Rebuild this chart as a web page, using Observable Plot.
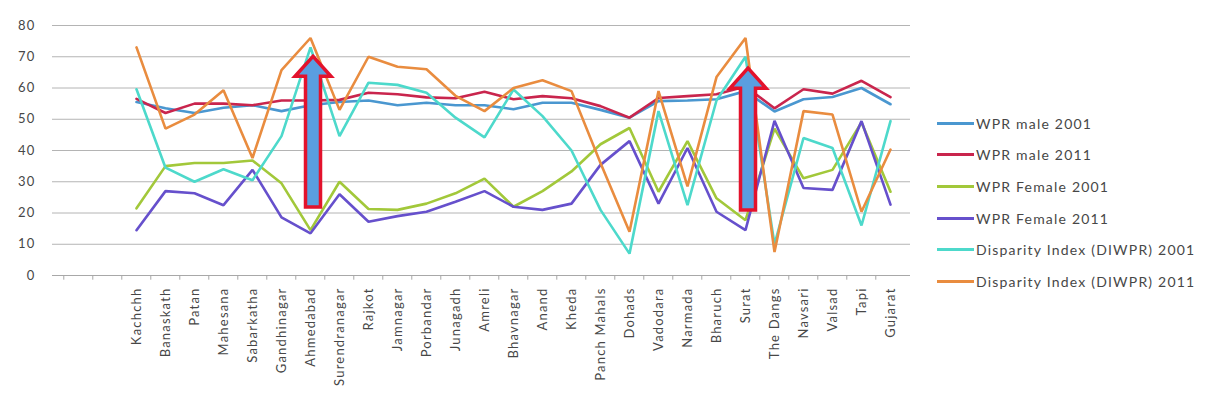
<!DOCTYPE html>
<html><head><meta charset="utf-8">
<script src="https://cdn.jsdelivr.net/npm/d3@7"></script>
<script src="https://cdn.jsdelivr.net/npm/@observablehq/plot@0.6"></script>
<style>
body{margin:0;background:#fff;font-family:Lato,"Liberation Sans",sans-serif;}
#wrap{position:relative;width:1206px;height:407px;overflow:hidden;}
#chart{position:absolute;left:0;top:0;}
#chart svg text{letter-spacing:1.2px;}
#legend{position:absolute;left:937px;top:0;}
.item{position:absolute;left:0;display:flex;align-items:center;white-space:nowrap;font-size:14px;color:#474747;height:20px;letter-spacing:1.2px;}
.sw{width:37px;height:3px;margin-right:2px;}
</style></head><body><div id="wrap"><div id="chart"></div><div id="legend"></div></div>
<script>
const blanks = ["", " "];
const districts = ["Kachchh","Banaskath","Patan","Mahesana","Sabarkatha","Gandhinagar","Ahmedabad","Surendranagar","Rajkot","Jamnagar","Porbandar","Junagadh","Amreli","Bhavnagar","Anand","Kheda","Panch Mahals","Dohads","Vadodara","Narmada","Bharuch","Surat","The Dangs","Navsari","Valsad","Tapi","Gujarat"];
const seriesNames = ["WPR  male 2001","WPR male 2011","WPR Female 2001","WPR Female 2011","Disparity Index (DIWPR) 2001","Disparity Index (DIWPR) 2011"];
const seriesColors = ["#4a97d0","#c9254d","#a2c83a","#6650cc","#4dd9cb","#e98c3f"];
const wprMale2001 = [55.5,53.5,52,53.7,54.5,52.6,54.5,55.5,56,54.5,55.3,54.5,54.5,53.2,55.3,55.3,53,50.5,55.8,56,56.4,59,52.5,56.4,57.1,60,54.8];
const wprMale2011 = [56.5,52,55,55,54.5,56,56,56.2,58.5,58,57,56.7,58.8,56.4,57.4,56.7,54.2,50.5,56.8,57.4,58,60.5,53.5,59.6,58.2,62.3,57.1];
const wprFemale2001 = [21.5,35,36,36,36.8,29.5,14.5,30,21.3,21,23,26.3,31,22,27,33.3,42,47.2,26.8,43,24.7,17.7,47,31.1,33.8,49,26.8];
const wprFemale2011 = [14.5,27,26.3,22.5,33.8,18.6,13.5,26,17.2,19,20.4,23.6,27,22,21,23,35.4,43,23,40.8,20.4,14.5,49.5,28,27.4,49.4,22.7];
const di2001 = [59.6,34.5,30,34,30.5,44.6,73,44.6,61.7,61,58.5,50.5,44.2,59.5,51,40,21,7,52.6,22.5,56,70,10,44,40.8,16,49.4];
const di2011 = [73,47,51.5,59.3,37.6,65.7,76,53,70,66.8,66,57.5,52.6,60,62.5,59,36,14,59,28.5,63.5,76,7.5,52.6,51.5,20.4,40.3];
const yTicks = [0,10,20,30,40,50,60,70,80];
// annotation arrows (category, from value, to value)
const arrowCats = ["Ahmedabad","Surat"];
const arrowFrom = [21.8,20.8];
const arrowTo = [70,66.2];

const allSeries = [wprMale2001,wprMale2011,wprFemale2001,wprFemale2011,di2001,di2011];
const rows = [];
allSeries.forEach((vals,s)=>vals.forEach((v,i)=>rows.push({district:districts[i],series:seriesNames[s],value:v})));
const allCats = [...blanks,...districts];

const W = 925, H = 407, ML = 57, MR = 15, MT = 25, MB = 132;
const step = (W-ML-MR)/allCats.length;

const arrowMark = (index, scales) => {
  const g = d3.create("svg:g");
  arrowCats.forEach((c,i)=>{
    const cx = scales.x(c) + 3;
    const yb = scales.y(arrowFrom[i]);
    const yt = scales.y(arrowTo[i]);
    const yh = yt + 20;
    const sw = 7.5, hw = 18;
    const pts = [[cx-sw,yb],[cx+sw,yb],[cx+sw,yh],[cx+hw,yh],[cx,yt],[cx-hw,yh],[cx-sw,yh]];
    g.append("polygon").attr("points", pts.map(p=>p.join(",")).join(" "))
      .attr("fill","#5a9ee0").attr("stroke","#e3122c").attr("stroke-width",3.5).attr("stroke-linejoin","miter");
  });
  return g.node();
};

const chart = Plot.plot({
  width: W, height: H,
  marginTop: MT, marginBottom: MB, marginLeft: ML, marginRight: MR,
  style: {fontFamily: "Lato, 'Liberation Sans', sans-serif", fontSize: "13px", color: "#474747", background: "#fff"},
  x: {type: "point", domain: allCats, padding: 0.5, tickRotate: -90, tickSize: 0, tickPadding: 12, label: null},
  y: {domain: [0,80], ticks: yTicks, tickSize: 0, tickPadding: 22, label: null},
  color: {domain: seriesNames, range: seriesColors},
  marks: [
    Plot.ruleY(yTicks.filter(t=>t>0), {stroke: "#b4b4b4", strokeWidth: 1, insetLeft: -5}),
    Plot.ruleY([0], {stroke: "#a8a8a8", strokeWidth: 1, insetLeft: -5}),
    Plot.ruleX(allCats, {x: d=>d, y1: 0, y2: -1.5, dx: -step/2, stroke: "#a8a8a8"}),
    Plot.lineY(rows, {x: "district", y: "value", z: "series", stroke: "series", strokeWidth: 2.6, strokeLinejoin: "miter"}),
    arrowMark
  ]
});
document.getElementById("chart").appendChild(chart);

const legend = document.getElementById("legend");
seriesNames.forEach((n,i)=>{
  const d = document.createElement("div");
  d.className = "item";
  d.style.top = (113 + i*31.7) + "px";
  const s = document.createElement("div");
  s.className = "sw"; s.style.background = seriesColors[i];
  const t = document.createElement("span"); t.textContent = n;
  d.appendChild(s); d.appendChild(t); legend.appendChild(d);
});
</script></body></html>
